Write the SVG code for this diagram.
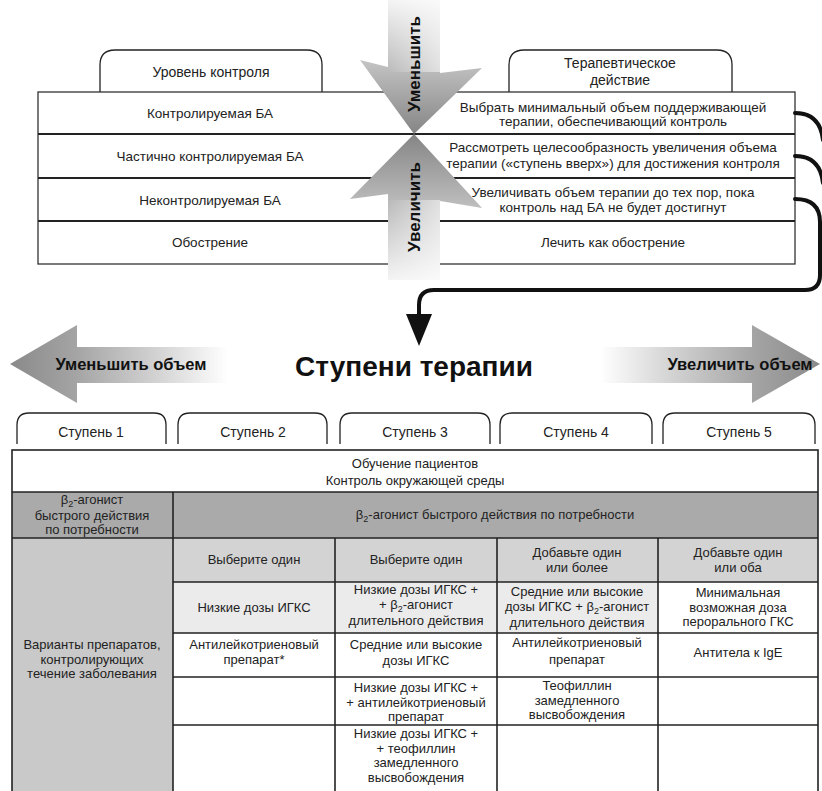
<svg xmlns="http://www.w3.org/2000/svg" width="822" height="791" viewBox="0 0 822 791">
<defs>
<style>
.t{font-family:"Liberation Sans",Arial,sans-serif;font-size:13px;fill:#222;text-anchor:middle}
.tt{font-family:"Liberation Sans",Arial,sans-serif;font-size:13.5px;fill:#222;text-anchor:middle}
.tab{font-family:"Liberation Sans",Arial,sans-serif;font-size:14px;fill:#222;text-anchor:middle}
.bd{font-family:"Liberation Sans",Arial,sans-serif;font-weight:bold;fill:#111;text-anchor:middle}
.sub{font-size:9px}
.ln{stroke:#222;stroke-width:1.6;fill:none}
.rl{stroke:#222;stroke-width:2;fill:none}
.tb{fill:#fff;stroke:#222;stroke-width:1.3}
.con{stroke:#111;stroke-width:4;fill:none;stroke-linecap:round}
</style>
<linearGradient id="gDown" gradientUnits="userSpaceOnUse" x1="0" y1="0" x2="0" y2="134">
<stop offset="0" stop-color="#f4f4f4"/><stop offset="0.45" stop-color="#c4c4c4"/><stop offset="1" stop-color="#858585"/>
</linearGradient>
<linearGradient id="gUp" gradientUnits="userSpaceOnUse" x1="0" y1="280" x2="0" y2="134">
<stop offset="0" stop-color="#f4f4f4"/><stop offset="0.45" stop-color="#c4c4c4"/><stop offset="1" stop-color="#858585"/>
</linearGradient>
<linearGradient id="gShade" gradientUnits="userSpaceOnUse" x1="388" y1="0" x2="440" y2="0">
<stop offset="0" stop-color="#fff" stop-opacity="0"/><stop offset="1" stop-color="#fff" stop-opacity="0.55"/>
</linearGradient>
<linearGradient id="gLeft" gradientUnits="userSpaceOnUse" x1="10" y1="0" x2="228" y2="0">
<stop offset="0" stop-color="#8a8a8a"/><stop offset="0.3" stop-color="#a4a4a4"/><stop offset="0.7" stop-color="#d6d6d6"/><stop offset="1" stop-color="#fff"/>
</linearGradient>
<linearGradient id="gRight" gradientUnits="userSpaceOnUse" x1="820" y1="0" x2="600" y2="0">
<stop offset="0" stop-color="#8a8a8a"/><stop offset="0.3" stop-color="#a4a4a4"/><stop offset="0.7" stop-color="#d6d6d6"/><stop offset="1" stop-color="#fff"/>
</linearGradient>
</defs>
<rect width="822" height="791" fill="#fff"/>

<!-- Top table -->
<g id="tab-level">
<path class="tb" d="M100,92 V65 Q100,50 115,50 H307 Q322,50 322,65 V92"/>
<text class="tab" x="211" y="77">Уровень контроля</text>
</g>
<g id="tab-action">
<path class="tb" d="M509,92 V65 Q509,50 524,50 H717 Q732,50 732,65 V92"/>
<text class="tab" x="620" y="68">Терапевтическое</text>
<text class="tab" x="620" y="85">действие</text>
</g>
<g id="top-table">
<rect x="38" y="92" width="757" height="172" fill="#fff" stroke="#333" stroke-width="1.3"/>
<line class="rl" x1="38" y1="134" x2="795" y2="134"/>
<line class="rl" x1="38" y1="178" x2="795" y2="178"/>
<line class="rl" x1="38" y1="221" x2="795" y2="221"/>
</g>
<g id="row-controlled">
<text class="tt" x="210" y="118">Контролируемая БА</text>
<text class="tt" x="613" y="112">Выбрать минимальный объем поддерживающей</text>
<text class="tt" x="613" y="126">терапии, обеспечивающий контроль</text>
</g>
<g id="row-partial">
<text class="tt" x="210" y="161">Частично контролируемая БА</text>
<text class="tt" x="613" y="152">Рассмотреть целесообразность увеличения объема</text>
<text class="tt" x="613" y="168">терапии («ступень вверх») для достижения контроля</text>
</g>
<g id="row-uncontrolled">
<text class="tt" x="210" y="205">Неконтролируемая БА</text>
<text class="tt" x="613" y="197">Увеличивать объем терапии до тех пор, пока</text>
<text class="tt" x="613" y="212">контроль над БА не будет достигнут</text>
</g>
<g id="row-exacerbation">
<text class="tt" x="210" y="247">Обострение</text>
<text class="tt" x="613" y="247">Лечить как обострение</text>
</g>

<!-- Central arrows -->
<g id="arrow-decrease">
<polygon points="388,0 440,0 440,73 482,68 414,134 360,60 388,67" fill="url(#gDown)"/>
<rect x="388" y="0" width="52" height="72" fill="url(#gShade)"/>
<text class="bd" font-size="17" transform="translate(420,64) rotate(-90)">Уменьшить</text>
</g>
<g id="arrow-increase">
<polygon points="414,134 482,208 440,201 440,280 388,280 388,194 350,199" fill="url(#gUp)"/>
<rect x="388" y="200" width="52" height="80" fill="url(#gShade)"/>
<text class="bd" font-size="17" transform="translate(420,207) rotate(-90)">Увеличить</text>
</g>

<!-- Connectors -->
<g id="connectors">
<path class="con" d="M795,113 C812,113 821,122 823,140"/>
<path class="con" d="M795,156 C812,156 821,165 823,183"/>
<path class="con" d="M795,199 C812,199 820,207 820,222 V275 Q820,290 805,290 H434 Q419,290 419,305 V318"/>
<polygon points="406,314 432,314 419,346" fill="#111"/>
</g>

<!-- Steps header -->
<g id="arrow-less">
<polygon points="10,364 77,325 77,347 228,347 228,383 77,383 77,403" fill="url(#gLeft)"/>
<text class="bd" font-size="16.5" x="131" y="370">Уменьшить объем</text>
</g>
<g id="title">
<text class="bd" font-size="28" x="414" y="376">Ступени терапии</text>
</g>
<g id="arrow-more">
<polygon points="820,364 752,325 752,347 602,347 602,383 752,383 752,403" fill="url(#gRight)"/>
<text class="bd" font-size="16.5" x="740" y="370">Увеличить объем</text>
</g>

<!-- Step tabs -->
<g id="step1"><path class="tb" d="M17,444 V425 Q17,413 29,413 H154 Q166,413 166,425 V444"/><text class="tab" x="91" y="437">Ступень 1</text></g>
<g id="step2"><path class="tb" d="M178,444 V425 Q178,413 190,413 H315 Q327,413 327,425 V444"/><text class="tab" x="253" y="437">Ступень 2</text></g>
<g id="step3"><path class="tb" d="M340,444 V425 Q340,413 352,413 H478 Q490,413 490,425 V444"/><text class="tab" x="415" y="437">Ступень 3</text></g>
<g id="step4"><path class="tb" d="M500,444 V425 Q500,413 512,413 H640 Q652,413 652,425 V444"/><text class="tab" x="576" y="437">Ступень 4</text></g>
<g id="step5"><path class="tb" d="M663,444 V425 Q663,413 675,413 H803 Q815,413 815,425 V444"/><text class="tab" x="739" y="437">Ступень 5</text></g>

<!-- Bottom table fills -->
<g id="table-fills">
<rect x="12" y="492" width="806" height="46" fill="#aaaaaa"/>
<rect x="12" y="538" width="161" height="260" fill="#c9c9c9"/>
<rect x="173" y="538" width="645" height="44" fill="#d3d3d3"/>
<rect x="173" y="582" width="485" height="51" fill="#ebebeb"/>
</g>
<g id="table-lines">
<rect class="ln" x="12" y="450" width="806" height="350"/>
<line class="ln" x1="12" y1="492" x2="818" y2="492"/>
<line class="ln" x1="12" y1="538" x2="818" y2="538"/>
<line class="ln" x1="173" y1="582" x2="818" y2="582"/>
<line class="ln" x1="173" y1="633" x2="818" y2="633"/>
<line class="ln" x1="173" y1="677" x2="818" y2="677"/>
<line class="ln" x1="173" y1="725" x2="818" y2="725"/>
<line class="ln" x1="173" y1="492" x2="173" y2="800"/>
<line class="ln" x1="335" y1="538" x2="335" y2="800"/>
<line class="ln" x1="497" y1="538" x2="497" y2="800"/>
<line class="ln" x1="658" y1="538" x2="658" y2="800"/>
</g>

<g id="cell-education">
<text class="t" x="415" y="468">Обучение пациентов</text>
<text class="t" x="415" y="485">Контроль окружающей среды</text>
</g>
<g id="cell-saba-step1">
<text class="t" x="92" y="504">β<tspan class="sub" dy="3">2</tspan><tspan dy="-3">-агонист</tspan></text>
<text class="t" x="92" y="520">быстрого действия</text>
<text class="t" x="92" y="534">по потребности</text>
</g>
<g id="cell-saba">
<text class="t" x="495" y="519">β<tspan class="sub" dy="3">2</tspan><tspan dy="-3">-агонист быстрого действия по потребности</tspan></text>
</g>
<g id="cell-controllers">
<text class="t" x="92" y="649">Варианты препаратов,</text>
<text class="t" x="92" y="664">контролирующих</text>
<text class="t" x="92" y="678">течение заболевания</text>
</g>
<g id="hdr-2"><text class="t" x="254" y="564">Выберите один</text></g>
<g id="hdr-3"><text class="t" x="416" y="564">Выберите один</text></g>
<g id="hdr-4"><text class="t" x="577" y="557">Добавьте один</text><text class="t" x="577" y="572">или более</text></g>
<g id="hdr-5"><text class="t" x="738" y="557">Добавьте один</text><text class="t" x="738" y="572">или оба</text></g>

<g id="c2-1"><text class="t" x="254" y="612">Низкие дозы ИГКС</text></g>
<g id="c3-1">
<text class="t" x="416" y="594">Низкие дозы ИГКС +</text>
<text class="t" x="416" y="609">+ β<tspan class="sub" dy="3">2</tspan><tspan dy="-3">-агонист</tspan></text>
<text class="t" x="416" y="625">длительного действия</text>
</g>
<g id="c4-1">
<text class="t" x="577" y="596">Средние или высокие</text>
<text class="t" x="577" y="611">дозы ИГКС + β<tspan class="sub" dy="3">2</tspan><tspan dy="-3">-агонист</tspan></text>
<text class="t" x="577" y="627">длительного действия</text>
</g>
<g id="c5-1">
<text class="t" x="738" y="597">Минимальная</text>
<text class="t" x="738" y="612">возможная доза</text>
<text class="t" x="738" y="626">перорального ГКС</text>
</g>
<g id="c2-2"><text class="t" x="254" y="649">Антилейкотриеновый</text><text class="t" x="254" y="664">препарат*</text></g>
<g id="c3-2"><text class="t" x="416" y="649">Средние или высокие</text><text class="t" x="416" y="665">дозы ИГКС</text></g>
<g id="c4-2"><text class="t" x="577" y="647">Антилейкотриеновый</text><text class="t" x="577" y="664">препарат</text></g>
<g id="c5-2"><text class="t" x="738" y="657">Антитела к IgE</text></g>
<g id="c3-3">
<text class="t" x="416" y="692">Низкие дозы ИГКС +</text>
<text class="t" x="416" y="707">+ антилейкотриеновый</text>
<text class="t" x="416" y="721">препарат</text>
</g>
<g id="c4-3">
<text class="t" x="577" y="690">Теофиллин</text>
<text class="t" x="577" y="705">замедленного</text>
<text class="t" x="577" y="719">высвобождения</text>
</g>
<g id="c3-4">
<text class="t" x="416" y="738">Низкие дозы ИГКС +</text>
<text class="t" x="416" y="753">+ теофиллин</text>
<text class="t" x="416" y="767">замедленного</text>
<text class="t" x="416" y="782">высвобождения</text>
</g>
</svg>
